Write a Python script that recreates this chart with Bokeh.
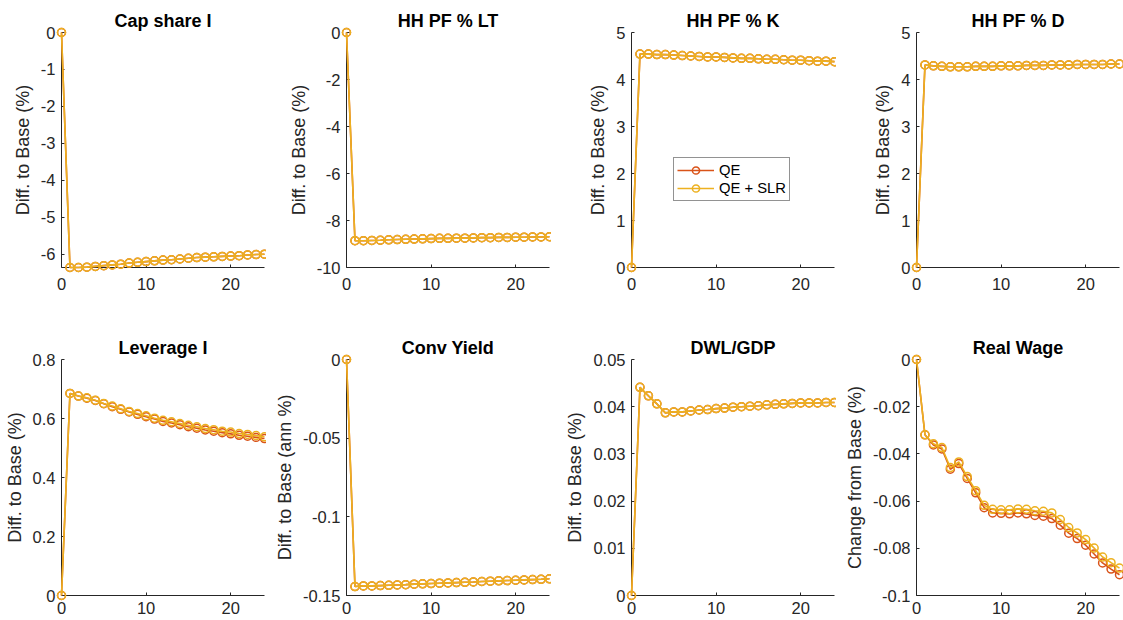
from bokeh.plotting import figure
from bokeh.layouts import row, column
from bokeh.models import (Range1d, FixedTicker, CustomJSTickFormatter,
                          Legend, LegendItem)
from bokeh.embed import file_html
from bokeh.resources import INLINE

# ---------------------------------------------------------------- data
periods = list(range(25))
x_ticks = [0, 10, 20]

cap_share_qe = [0, -6.36, -6.36, -6.35, -6.33, -6.31, -6.29, -6.27, -6.24, -6.22,
                -6.20, -6.18, -6.16, -6.15, -6.13, -6.11, -6.09, -6.08, -6.07,
                -6.06, -6.05, -6.04, -6.02, -6.01, -6.00]
cap_share_slr = list(cap_share_qe)
cap_share_ticks = [-6, -5, -4, -3, -2, -1, 0]

pf_lt_qe = [0, -8.86, -8.86, -8.85, -8.84, -8.82, -8.81, -8.80, -8.79, -8.78,
            -8.77, -8.76, -8.76, -8.75, -8.75, -8.74, -8.73, -8.73, -8.72,
            -8.72, -8.71, -8.71, -8.70, -8.70, -8.69]
pf_lt_slr = list(pf_lt_qe)
pf_lt_ticks = [-10, -8, -6, -4, -2, 0]

pf_k_qe = [0, 4.54, 4.54, 4.53, 4.53, 4.52, 4.51, 4.50, 4.49, 4.48, 4.48, 4.47,
           4.46, 4.45, 4.45, 4.44, 4.43, 4.43, 4.42, 4.41, 4.41, 4.40, 4.39,
           4.39, 4.38]
pf_k_slr = list(pf_k_qe)
pf_k_ticks = [0, 1, 2, 3, 4, 5]

pf_d_qe = [0, 4.31, 4.29, 4.28, 4.27, 4.27, 4.27, 4.28, 4.28, 4.28, 4.29, 4.29,
           4.29, 4.30, 4.30, 4.30, 4.31, 4.31, 4.31, 4.32, 4.32, 4.32, 4.32,
           4.33, 4.33]
pf_d_slr = list(pf_d_qe)
pf_d_ticks = [0, 1, 2, 3, 4, 5]

leverage_qe = [0, 0.685, 0.676, 0.669, 0.661, 0.650, 0.640, 0.631, 0.622, 0.614,
               0.606, 0.598, 0.590, 0.585, 0.579, 0.572, 0.567, 0.561, 0.557,
               0.552, 0.548, 0.543, 0.540, 0.536, 0.532]
leverage_slr = [0, 0.685, 0.676, 0.670, 0.662, 0.651, 0.642, 0.633, 0.624, 0.617,
                0.609, 0.601, 0.594, 0.589, 0.583, 0.577, 0.572, 0.566, 0.562,
                0.557, 0.554, 0.549, 0.546, 0.542, 0.538]
leverage_ticks = [0, 0.2, 0.4, 0.6, 0.8]

conv_yield_qe = [0, -0.1443, -0.1439, -0.1439, -0.1437, -0.1435, -0.1433, -0.1431,
                 -0.1428, -0.1426, -0.1424, -0.1422, -0.1420, -0.1418, -0.1416,
                 -0.1414, -0.1411, -0.1409, -0.1407, -0.1405, -0.1403, -0.1401,
                 -0.1399, -0.1397, -0.1394]
conv_yield_slr = list(conv_yield_qe)
conv_yield_ticks = [-0.15, -0.1, -0.05, 0]

dwl_qe = [0, 0.0441, 0.0423, 0.0406, 0.0387, 0.0389, 0.0389, 0.0391, 0.0393,
          0.0394, 0.0396, 0.0397, 0.0399, 0.0400, 0.0401, 0.0402, 0.0404, 0.0405,
          0.0406, 0.0407, 0.0408, 0.0408, 0.0408, 0.0409, 0.0409]
dwl_slr = list(dwl_qe)
dwl_ticks = [0, 0.01, 0.02, 0.03, 0.04, 0.05]

wage_qe = [0, -0.0319, -0.0362, -0.0379, -0.0465, -0.0441, -0.0504, -0.0565,
           -0.0628, -0.0650, -0.0652, -0.0654, -0.0650, -0.0654, -0.0661, -0.0664,
           -0.0674, -0.0702, -0.0736, -0.0759, -0.0787, -0.0824, -0.0862, -0.0888,
           -0.0912]
wage_slr = [0, -0.0319, -0.0357, -0.0373, -0.0458, -0.0434, -0.0496, -0.0556,
            -0.0618, -0.0635, -0.0637, -0.0637, -0.0633, -0.0635, -0.0641, -0.0643,
            -0.0650, -0.0678, -0.0712, -0.0735, -0.0763, -0.0799, -0.0837, -0.0861,
            -0.0884]
wage_ticks = [-0.1, -0.08, -0.06, -0.04, -0.02, 0]

series_names = ["QE", "QE + SLR"]

# ---------------------------------------------------------------- style
FONT = "Liberation Sans"
AXIS_COLOR = "#262626"
COLORS = ["#D95319", "#EDB120"]

fmt_code = "return String(+tick.toFixed(6));"

# column geometry: figure width, min left border, min right border
COLS = [(266, 61, 2), (285, 80, 2), (285, 80, 2), (287, 80, 4)]
# row geometry: height, top border, bottom border, x tick label standoff
ROWS = [(327, 32, 60, 10), (293, 32, 25, 6)]


def panel(col, rw, title, ylabel, qe, slr, y_lo, y_hi, yticks):
    w, bl, br = COLS[col]
    h, bt, bb, xstand = ROWS[rw]
    p = figure(width=w, height=h, title=title,
               x_range=Range1d(0, 24), y_range=Range1d(y_lo, y_hi),
               output_backend="svg", toolbar_location=None,
               min_border_left=bl, min_border_right=br,
               min_border_top=bt, min_border_bottom=bb)
    p.title.text_font = FONT
    p.title.text_font_size = "18px"
    p.title.text_font_style = "bold"
    p.title.text_color = "black"
    p.title.align = "center"
    p.title.standoff = 3

    p.grid.visible = False
    p.outline_line_color = None
    p.background_fill_color = "white"
    p.border_fill_color = "white"

    p.xaxis.ticker = FixedTicker(ticks=x_ticks)
    p.yaxis.ticker = FixedTicker(ticks=yticks)
    p.yaxis.formatter = CustomJSTickFormatter(code=fmt_code)
    p.xaxis.formatter = CustomJSTickFormatter(code=fmt_code)
    p.yaxis.axis_label = ylabel

    for ax in (p.xaxis, p.yaxis):
        ax.axis_line_color = AXIS_COLOR
        ax.axis_line_width = 1
        ax.major_tick_line_color = AXIS_COLOR
        ax.major_tick_in = 3
        ax.major_tick_out = 0
        ax.minor_tick_line_color = None
        ax.major_label_text_font = FONT
        ax.major_label_text_font_size = "16.5px"
        ax.major_label_text_color = AXIS_COLOR
        ax.axis_label_text_font = FONT
        ax.axis_label_text_font_size = "18px"
        ax.axis_label_text_font_style = "normal"
        ax.axis_label_text_color = AXIS_COLOR
        ax.axis_label_standoff = 5
    p.xaxis.major_label_standoff = xstand
    p.yaxis.major_label_standoff = 6

    # series are drawn unclipped so markers sitting on the axes stay whole
    rends = []
    for vals, color in zip((qe, slr), COLORS):
        ln = p.line(periods, vals, line_color=color, line_width=1.6,
                    level="overlay")
        mk = p.scatter(periods, vals, marker="circle", size=8, fill_color=None,
                       line_color=color, line_width=1.5, level="overlay")
        rends.append([ln, mk])
    return p, rends


p1, _ = panel(0, 0, "Cap share I", "Diff. to Base (%)", cap_share_qe, cap_share_slr,
              min(cap_share_slr + cap_share_qe), 0, cap_share_ticks)
p2, _ = panel(1, 0, "HH PF % LT", "Diff. to Base (%)", pf_lt_qe, pf_lt_slr,
              -10, 0, pf_lt_ticks)
p3, r3 = panel(2, 0, "HH PF % K", "Diff. to Base (%)", pf_k_qe, pf_k_slr,
               0, 5, pf_k_ticks)
p4, _ = panel(3, 0, "HH PF % D", "Diff. to Base (%)", pf_d_qe, pf_d_slr,
              0, 5, pf_d_ticks)
p5, _ = panel(0, 1, "Leverage I", "Diff. to Base (%)", leverage_qe, leverage_slr,
              0, 0.8, leverage_ticks)
p6, _ = panel(1, 1, "Conv Yield", "Diff. to Base (ann %)", conv_yield_qe,
              conv_yield_slr, -0.15, 0, conv_yield_ticks)
p7, _ = panel(2, 1, "DWL/GDP", "Diff. to Base (%)", dwl_qe, dwl_slr,
              0, 0.05, dwl_ticks)
p8, _ = panel(3, 1, "Real Wage", "Change from Base (%)", wage_qe, wage_slr,
              -0.1, 0, wage_ticks)

legend = Legend(
    items=[LegendItem(label=name, renderers=r) for name, r in zip(series_names, r3)],
    location=(42, 66),
    label_text_font=FONT, label_text_font_size="14.8px", label_text_color="black",
    border_line_color=AXIS_COLOR, border_line_width=1,
    background_fill_color="white", background_fill_alpha=1,
    padding=3, spacing=0, margin=0,
    label_height=18, glyph_height=18, glyph_width=37, label_standoff=5,
)
p3.add_layout(legend)

layout = column(row(p1, p2, p3, p4), row(p5, p6, p7, p8))

with open("out.html", "w") as f:
    f.write(file_html(layout, INLINE))
